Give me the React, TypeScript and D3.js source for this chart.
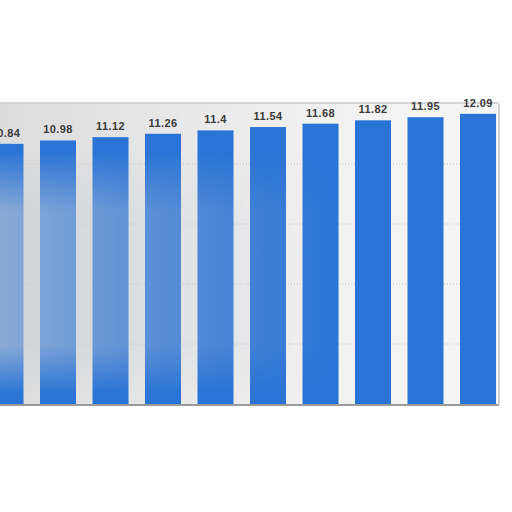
import * as d3 from 'd3';

const categories = ['c1', 'c2', 'c3', 'c4', 'c5', 'c6', 'c7', 'c8', 'c9', 'c10'];
const values = [10.84, 10.98, 11.12, 11.26, 11.4, 11.54, 11.68, 11.82, 11.95, 12.09];
const labels = ['10.84', '10.98', '11.12', '11.26', '11.4', '11.54', '11.68', '11.82', '11.95', '12.09'];
const gridTicks = [2.5, 5, 7.5, 10];

const W = 512;
const H = 512;
const top = 104;
const bottom = 404;
const panelRight = 499;

const App = () => {
    const x = d3.scaleBand().domain(categories).range([-20.75, 504.25]).paddingInner(0.314).paddingOuter(0.157);
    const y = d3.scaleLinear().domain([0, 12.5]).range([bottom, top]);

    return (
        <svg width={W} height={H} style={{ position: 'absolute', left: 0, top: 0 }}>
            <defs>
                <linearGradient id="panel" x1="0" x2="1" y1="0" y2="0">
                    <stop offset="0" stopColor="#dcdcdc" />
                    <stop offset="0.6" stopColor="#f0f0f0" />
                    <stop offset="1" stopColor="#f6f6f6" />
                </linearGradient>
                <linearGradient id="fadeH" x1="0" x2="1" y1="0" y2="0">
                    <stop offset="0" stopColor="#c9ced6" stopOpacity="0.6" />
                    <stop offset="0.45" stopColor="#c9ced6" stopOpacity="0.3" />
                    <stop offset="1" stopColor="#c9ced6" stopOpacity="0" />
                </linearGradient>
                <linearGradient id="fadeV" x1="0" x2="0" y1="0" y2="1">
                    <stop offset="0" stopColor="#fff" stopOpacity="0" />
                    <stop offset="0.25" stopColor="#fff" stopOpacity="1" />
                    <stop offset="0.8" stopColor="#fff" stopOpacity="1" />
                    <stop offset="1" stopColor="#fff" stopOpacity="0" />
                </linearGradient>
                <mask id="vmask">
                    <rect x={0} y={150} width={340} height={245} fill="url(#fadeV)" />
                </mask>
            </defs>
            <rect width={W} height={H} fill="#fff" />
            {/* panel */}
            <rect x={0} y={top} width={panelRight} height={bottom - top} fill="url(#panel)" />
            <line x1={0} x2={panelRight} y1={top - 1} y2={top - 1} stroke="#c8c8c8" strokeWidth={1.5} />
            <line x1={panelRight} x2={panelRight} y1={top} y2={bottom} stroke="#d0d0d0" strokeWidth={2} />
            {gridTicks.map(t => (
                <line key={t} x1={0} x2={panelRight} y1={y(t)} y2={y(t)} stroke="#c4c4c4" strokeDasharray="1,2" />
            ))}
            {/* bars */}
            {values.map((v, i) => (
                <rect key={i} x={x(categories[i])} y={y(v)} width={x.bandwidth()} height={y(0) - y(v)} fill="#2a74d6" />
            ))}
            {/* blur-like fade over the left bars */}
            <rect x={0} y={150} width={340} height={245} fill="url(#fadeH)" mask="url(#vmask)" />
            <line x1={0} x2={panelRight} y1={bottom + 1} y2={bottom + 1} stroke="#9a9a9a" strokeWidth={2} />
            {/* value labels */}
            {values.map((v, i) => (
                <text key={'l' + i} x={x(categories[i]) + x.bandwidth() / 2} y={y(v) - 7}
                    textAnchor="middle" fontFamily="Liberation Sans, Arial, sans-serif" fontWeight="bold"
                    fontSize={11} letterSpacing={0.4} fill="#3a3a3a">
                    {labels[i]}
                </text>
            ))}
        </svg>
    );
};

export default App;
